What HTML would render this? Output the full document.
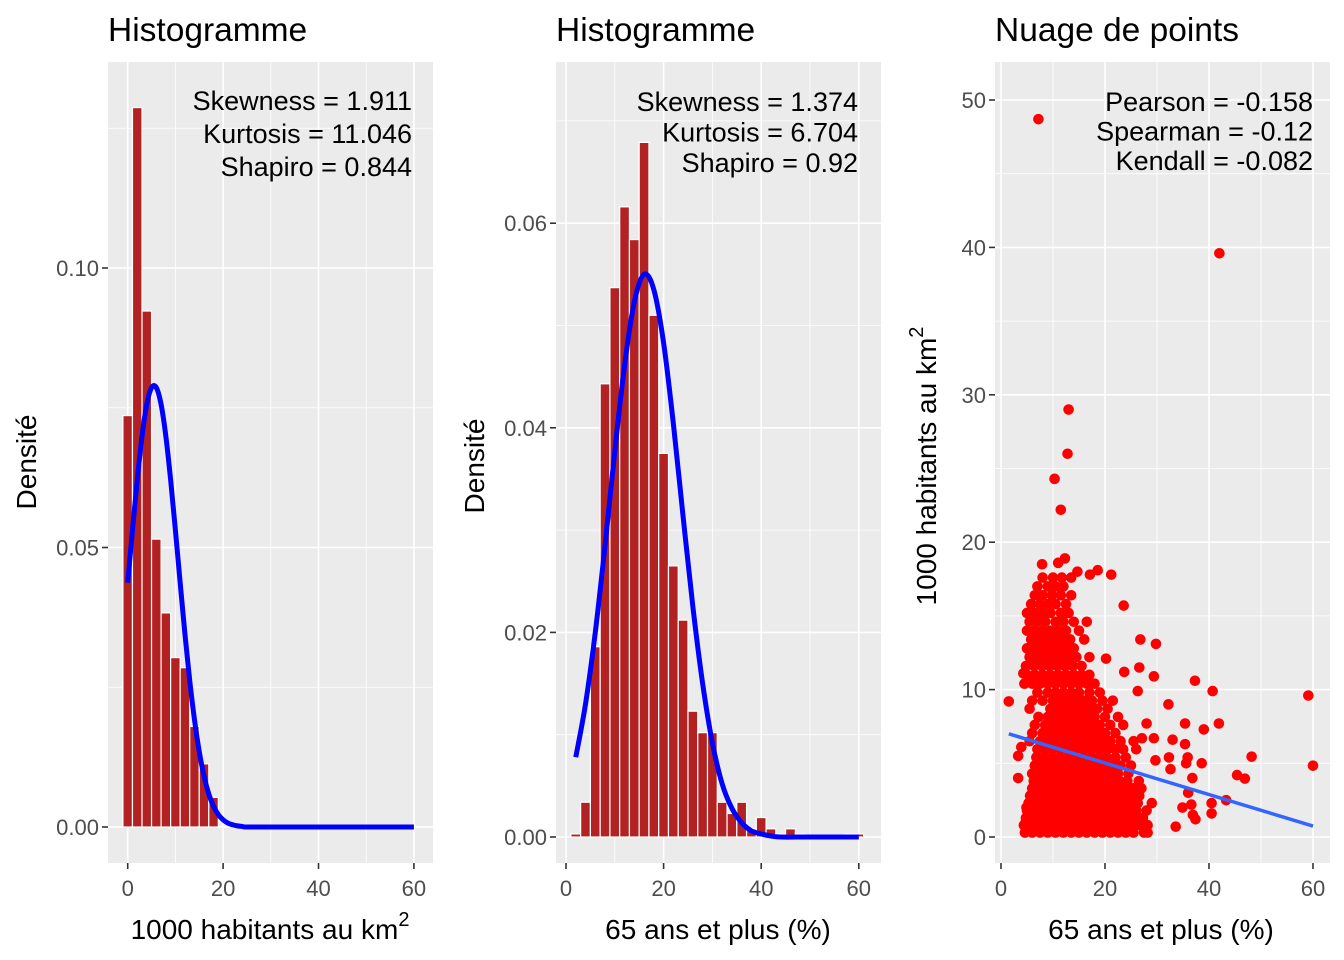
<!DOCTYPE html>
<html><head><meta charset="utf-8"><style>
html,body{margin:0;padding:0;background:#fff;}
svg{display:block;font-family:"Liberation Sans",Arial,sans-serif;}
</style></head><body>
<svg id="chart" width="1344" height="960" viewBox="0 0 1344 960">
<g id="p1"></g>
<g id="p2"></g>
<g id="p3"></g>
</svg>
<script>
// ---------- Panel 1 data ----------
const h1BinStart = [-1,1,3,5,7,9,11,13,15,17];
const h1Density = [0.0736,0.1287,0.0923,0.0515,0.0383,0.0303,0.0285,0.018,0.0113,0.0053];
const c1X = [0,1,2,3,4,5,6,7,8,9,10,11,12,13,14,15,16,17,18,19,20,21,22,23,24,25,30,40,50,60];
const c1Y = [0.0437,0.0531,0.0621,0.0699,0.0756,0.0786,0.0786,0.0756,0.0699,0.0621,0.0531,0.0437,0.0345,0.0262,0.0192,0.0135,0.0091,0.0059,0.0037,0.0022,0.0013,0.0007,0.0004,0.0002,0.0001,0,0,0,0,0];
const p1XTicks = [0,20,40,60];
const p1YTicks = [0,0.05,0.10];
const p1YLabels = ["0.00","0.05","0.10"];
const p1Stats = ["Skewness = 1.911","Kurtosis = 11.046","Shapiro = 0.844"];

// ---------- Panel 2 data ----------
const h2BinStart = [1,3,5,7,9,11,13,15,17,19,21,23,25,27,29,31,33,35,37,39,41,43,45,47,49,51,53,55,57,59];
const h2Density = [0.0003,0.0034,0.0186,0.0443,0.0537,0.0616,0.0584,0.0679,0.051,0.0375,0.0265,0.0212,0.0123,0.0102,0.0102,0.0034,0.0023,0.0034,0.0008,0.0019,0.0008,0.0003,0.0008,0.0003,0,0,0,0,0.0003,0.0003];
const c2X = [2,4,6,8,10,12,14,16,18,20,22,24,26,28,30,32,34,36,38,40,42,44,50,60];
const c2Y = [0.0078,0.0130,0.0200,0.0285,0.0377,0.0461,0.0523,0.0550,0.0535,0.0483,0.0404,0.0313,0.0225,0.0150,0.0092,0.0052,0.0028,0.0014,0.0006,0.0003,0.0001,0,0,0];
const p2XTicks = [0,20,40,60];
const p2YTicks = [0,0.02,0.04,0.06];
const p2YLabels = ["0.00","0.02","0.04","0.06"];
const p2Stats = ["Skewness = 1.374","Kurtosis = 6.704","Shapiro = 0.92"];

// ---------- Panel 3 data ----------
const regIntercept = 7.16;
const regSlope = -0.107;
const regRange = [1.5,60];
const p3XTicks = [0,20,40,60];
const p3YTicks = [0,10,20,30,40,50];
const p3Stats = ["Pearson = -0.158","Spearman = -0.12","Kendall = -0.082"];
const outliers = [[7.2,48.7],[42,39.6],[13,29],[12.8,26],[10.3,24.3],[11.5,22.2],[59.1,9.6],[60,4.84],[48.2,5.45],[45.4,4.2],[46.9,3.96],[40.7,9.9],[41.9,7.7],[37.3,10.6],[39,7.3],[35.4,7.7],[35.4,6.3],[32.2,9.0],[29.8,13.1],[26.8,13.4],[23.6,15.7],[37.4,1.2],[40.5,1.6],[43.3,2.5],[40.5,2.3],[36,3.0],[36.6,2.2],[36.9,1.5],[34.9,2.0],[33.6,0.7],[28.2,0.3],[35.9,5.4],[35.6,5.0],[38.6,5.0],[36.8,4.0],[32.6,4.6],[32.3,5.4],[33,6.6],[29.7,5.2],[29.4,10.9],[26.6,11.5],[26.3,9.9],[23.7,11.2],[20.2,12.1],[21.2,17.8],[18.6,18.1],[17.1,17.8],[14.7,18.0],[7.9,18.5],[12.3,18.9],[11,18.6],[1.5,9.2],[3.3,5.5],[3.9,6.1],[3.3,4.0],[4.9,2.0],[4.6,0.9],[4.3,11.1],[27.1,6.7],[28,7.7],[29.4,6.7]];
const blobRowY = [0.3,0.8,1.3,1.8,2.3,2.8,3.3,3.8,4.3,4.85,5.4,5.95,6.5,7.05,7.6,8.15,8.7,9.25,9.8,10.4,11,11.6,12.2,12.8,13.4,14,14.6,15.2,15.8,16.4,17,17.6];
const blobRowX = [
[4.6,6,7.5,9,10.5,12,13.5,15,16.5,18,19.5,21,22.5,24,25.5,27.5],
[4.4,5.8,7.2,8.7,10.2,11.7,13.2,14.7,16.2,17.7,19.2,20.7,22.2,23.7,25.2,26.7,28.2],
[4.8,6.3,7.8,9.3,10.8,12.3,13.8,15.3,16.8,18.3,19.8,21.3,22.8,24.3,25.8,27.3],
[5,6.5,8,9.5,11,12.5,14,15.5,17,18.5,20,21.5,23,24.5,26,28],
[5.3,6.8,8.3,9.8,11.3,12.8,14.3,15.8,17.3,18.8,20.3,21.8,23.3,24.8,26.3,29],
[5.6,7.1,8.6,10.1,11.6,13.1,14.6,16.1,17.6,19.1,20.6,22.1,23.6,25.1,26.6],
[6,7.5,9,10.5,12,13.5,15,16.5,18,19.5,21,22.5,24,25.5,27],
[6.3,7.8,9.3,10.8,12.3,13.8,15.3,16.8,18.3,19.8,21.3,22.8,24.3,26.5],
[6,7.5,9,10.5,12,13.5,15,16.5,18,19.5,21,22.5,24.5],
[6.5,8,9.5,11,12.5,14,15.5,17,18.5,20,21.5,23,25],
[6.8,8.3,9.8,11.3,12.8,14.3,15.8,17.3,18.8,20.3,22,24],
[7,8.5,10,11.5,13,14.5,16,17.5,19,20.5,22,23.5,26],
[5.5,7.5,9,10.5,12,13.5,15,16.5,18,19.5,21,23,25.5],
[6,8,9.5,11,12.5,14,15.5,17,18.5,20,22],
[6.5,8.5,10,11.5,13,14.5,16,17.5,19,21,23.5],
[7.2,9,10.5,12,13.5,15,16.5,18,20,22.5],
[5.5,9.5,11,12.5,14,15.5,17,18.5,20.5],
[6,8,10,11.5,13,14.5,16,17.5,19.5,21.5],
[7,9,10.5,12,13.5,15,17,19],
[4.5,6,7.5,9,10.5,12,13.5,15,16.5,18],
[5,6.5,8,9.5,11,12.5,14,15.5,17],
[4.8,6.3,7.8,9.3,10.8,12.3,13.8,15.5],
[5.5,7,8.5,10,11.5,13,14.5,17],
[5,6.5,8,9.5,11,12.5,14],
[5.8,7.3,8.8,10.3,11.8,13.3,16],
[5,6.5,8,9.5,11,12.5,15],
[5.5,7,8.5,10.5,12,14,16.5],
[5,6.5,8,9.5,11.5,13],
[5.8,7.5,9,10.5,12.5],
[6.5,8,9.8,11.5,13.5],
[7,9,10.5,12],
[8,10,11.7,13.5]
];

const NS = "http://www.w3.org/2000/svg";
function mk(parent, tag, attrs, text){
  const e = document.createElementNS(NS, tag);
  for (const k in attrs) e.setAttribute(k, attrs[k]);
  if (text !== undefined) e.textContent = text;
  parent.appendChild(e);
  return e;
}
function smoothPath(pts){
  let d = "M"+pts[0][0]+","+pts[0][1];
  for (let i=0;i<pts.length-1;i++){
    const p0 = pts[Math.max(0,i-1)], p1 = pts[i], p2 = pts[i+1], p3 = pts[Math.min(pts.length-1,i+2)];
    const c1x = p1[0]+(p2[0]-p0[0])/6, c1y = p1[1]+(p2[1]-p0[1])/6;
    const c2x = p2[0]-(p3[0]-p1[0])/6, c2y = p2[1]-(p3[1]-p1[1])/6;
    d += " C"+c1x+","+c1y+" "+c2x+","+c2y+" "+p2[0]+","+p2[1];
  }
  return d;
}

function frame(g, cfg){
  const bg = mk(g,"rect",{x:cfg.left,y:cfg.top,width:cfg.right-cfg.left,height:cfg.bottom-cfg.top,fill:"#ebebeb"});
  
  
  cfg.xMinor.forEach(v=>{const l=mk(g,"line",{x1:cfg.sx(v),x2:cfg.sx(v),y1:cfg.top,y2:cfg.bottom,stroke:"#fff","stroke-width":0.8});
    
    });
  cfg.yMinor.forEach(v=>{const l=mk(g,"line",{x1:cfg.left,x2:cfg.right,y1:cfg.sy(v),y2:cfg.sy(v),stroke:"#fff","stroke-width":0.8});
    
    });
  cfg.xTicks.forEach(v=>{const x=cfg.sx(v);
    const l=mk(g,"line",{x1:x,x2:x,y1:cfg.top,y2:cfg.bottom,stroke:"#fff","stroke-width":1.6});
    
    
    const t=mk(g,"line",{x1:x,x2:x,y1:cfg.bottom,y2:cfg.bottom+6,stroke:"#333","stroke-width":1.6});
    
    
    const lb=mk(g,"text",{x:x,y:cfg.bottom+33,"text-anchor":"middle","font-size":22,fill:"#4d4d4d"},String(v));
    
    });
  cfg.yTicks.forEach((v,i)=>{const y=cfg.sy(v);
    const l=mk(g,"line",{x1:cfg.left,x2:cfg.right,y1:y,y2:y,stroke:"#fff","stroke-width":1.6});
    
    
    const t=mk(g,"line",{x1:cfg.left-6,x2:cfg.left,y1:y,y2:y,stroke:"#333","stroke-width":1.6});
    
    
    const lb=mk(g,"text",{x:cfg.left-9,y:y+8,"text-anchor":"end","font-size":22,fill:"#4d4d4d"},cfg.yLabels[i]);
    
    });
  const ti=mk(g,"text",{x:cfg.left,y:41,"font-size":33.5,fill:"#000"},cfg.title);
  
  
}
function stats(g, lines, x, y0, dy){
  lines.forEach((s,i)=>{const t=mk(g,"text",{x:x,y:y0+i*dy,"text-anchor":"end","font-size":27,fill:"#000"},s);
    
    });
}
function xTitle(g, x, parts){
  const t=mk(g,"text",{x:x,y:939,"text-anchor":"middle","font-size":28,fill:"#000"});
  
  
  mk(t,"tspan",{},parts[0]);
  if (parts[1]) mk(t,"tspan",{dy:-13,"font-size":20},parts[1]);
}
function yTitle(g, x, y, parts){
  const t=mk(g,"text",{x:0,y:0,"text-anchor":"middle","font-size":28,fill:"#000",transform:"translate("+x+","+y+") rotate(-90)"});
  
  
  mk(t,"tspan",{},parts[0]);
  if (parts[1]) mk(t,"tspan",{dy:-13,"font-size":20},parts[1]);
}

// ---------- Panel 1 ----------
(function(){
  const g=document.getElementById("p1");
  const cfg={left:108,right:433,top:62,bottom:863,
    sx:v=>127.7+v*4.77, sy:v=>827-v*5590,
    xTicks:p1XTicks,xMinor:[10,30,50],yTicks:p1YTicks,yLabels:p1YLabels,yMinor:[0.025,0.075,0.125],title:"Histogramme"};
  frame(g,cfg);
  h1BinStart.forEach((b,i)=>{
    const x0=cfg.sx(b), x1=cfg.sx(b+2), y=cfg.sy(h1Density[i]);
    const r=mk(g,"rect",{x:x0,y:y,width:x1-x0,height:cfg.sy(0)-y,fill:"#b22222",stroke:"#fff","stroke-width":1.2});
    
    
  });
  const p=mk(g,"path",{d:smoothPath(c1X.map((x,i)=>[cfg.sx(x),cfg.sy(c1Y[i])])),fill:"none",stroke:"#0000ff","stroke-width":5});
  
  
  stats(g,p1Stats,412,110,33);
  xTitle(g,270,["1000 habitants au km","2"]);
  yTitle(g,36,462,["Densité"]);
})();

// ---------- Panel 2 ----------
(function(){
  const g=document.getElementById("p2");
  const cfg={left:556,right:881,top:62,bottom:863,
    sx:v=>566+v*4.88, sy:v=>837-v*10230,
    xTicks:p2XTicks,xMinor:[10,30,50],yTicks:p2YTicks,yLabels:p2YLabels,yMinor:[0.01,0.03,0.05,0.07],title:"Histogramme"};
  frame(g,cfg);
  h2BinStart.forEach((b,i)=>{
    if (h2Density[i]<=0) return;
    const x0=cfg.sx(b), x1=cfg.sx(b+2), y=cfg.sy(h2Density[i]);
    const r=mk(g,"rect",{x:x0,y:y,width:x1-x0,height:cfg.sy(0)-y,fill:"#b22222",stroke:"#fff","stroke-width":1.2});
    
    
  });
  const p=mk(g,"path",{d:smoothPath(c2X.map((x,i)=>[cfg.sx(x),cfg.sy(c2Y[i])])),fill:"none",stroke:"#0000ff","stroke-width":5});
  
  
  stats(g,p2Stats,858,111,30.5);
  xTitle(g,718,["65 ans et plus (%)"]);
  yTitle(g,484,466,["Densité"]);
})();

// ---------- Panel 3 ----------
(function(){
  const g=document.getElementById("p3");
  const cfg={left:995,right:1330,top:62,bottom:863,
    sx:v=>1001+v*5.2, sy:v=>837-v*14.74,
    xTicks:p3XTicks,xMinor:[10,30,50],yTicks:p3YTicks,yLabels:p3YTicks.map(String),yMinor:[5,15,25,35,45],title:"Nuage de points"};
  frame(g,cfg);
  const drawPt=(x,y)=>{
    const c=mk(g,"circle",{cx:cfg.sx(x),cy:cfg.sy(y),r:5.3,fill:"#ff0000"});
    
    
  };
  blobRowY.forEach((y,i)=>blobRowX[i].forEach(x=>drawPt(x,y)));
  outliers.forEach(p=>drawPt(p[0],p[1]));
  const l=mk(g,"line",{x1:cfg.sx(regRange[0]),y1:cfg.sy(regIntercept+regSlope*regRange[0]),x2:cfg.sx(regRange[1]),y2:cfg.sy(regIntercept+regSlope*regRange[1]),stroke:"#3366ff","stroke-width":3.5});
  
  
  stats(g,p3Stats,1313,111,29.5);
  xTitle(g,1161,["65 ans et plus (%)"]);
  yTitle(g,936,466,["1000 habitants au km","2"]);
})();
</script>
</body></html>
